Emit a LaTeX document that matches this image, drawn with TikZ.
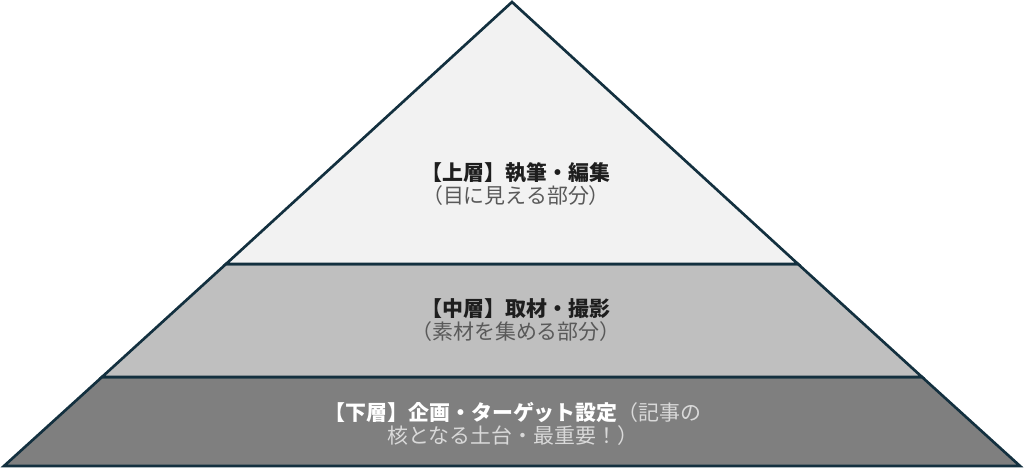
\documentclass[tikz,border=0pt]{standalone}
\usepackage{fontspec}
\setmainfont{Noto Sans CJK JP}
\usepackage{xcolor}
\definecolor{edgenavy}{HTML}{13303F}
\definecolor{tierlight}{HTML}{F2F2F2}
\definecolor{tiermid}{HTML}{BFBFBF}
\definecolor{tierdark}{HTML}{7F7F7F}
\definecolor{textdark}{HTML}{1E1E1E}
\definecolor{textsub}{HTML}{595959}
\definecolor{textpale}{HTML}{D9D9D9}
\tikzset{
    tier/.style={draw=edgenavy, line width=2pt, line join=miter},
    uppertier/.style={tier, fill=tierlight},
    middletier/.style={tier, fill=tiermid},
    lowertier/.style={tier, fill=tierdark},
    caption/.style={align=center, inner sep=0pt,
        font=\fontsize{15.7}{17.6}\selectfont}
}

\begin{document}
\begin{tikzpicture}[x=0.75pt, y=-0.75pt]
    \useasboundingbox (0,0) rectangle (1024,468);
    % the three layers of the pyramid
    \path[lowertier] (102,377) -- (922,377) -- (1020,466) -- (4,466) -- cycle;
    \path[middletier] (226,264) -- (798,264) -- (922,377) -- (102,377) -- cycle;
    \path[uppertier] (512,2) -- (798,264) -- (226,264) -- cycle;
    % captions
    \node[caption] (upper) at (516,184)
        {{\bfseries\color{textdark}【上層】執筆・編集}\\
         {\color{textsub}（目に見える部分）}};
    \node[caption] (middle) at (516,320)
        {{\bfseries\color{textdark}【中層】取材・撮影}\\
         {\color{textsub}（素材を集める部分）}};
    \node[caption] (lower) at (513,424)
        {{\bfseries\color{white}【下層】企画・ターゲット設定}{\color{textpale}（記事の}\\
         {\color{textpale}核となる土台・最重要！）}};
\end{tikzpicture}
\end{document}
